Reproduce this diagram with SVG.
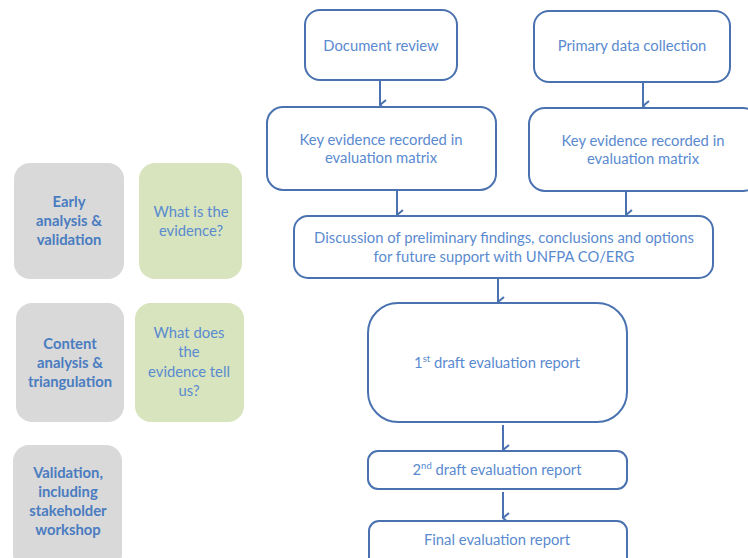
<svg xmlns="http://www.w3.org/2000/svg" width="748" height="558" viewBox="0 0 748 558">
<style>
.box{fill:#fff;stroke:#4a72b0;stroke-width:2}
.gray{fill:#d9d9d9}
.green{fill:#d7e4bd}
.t{font-family:Lato,"Open Sans","Liberation Sans",sans-serif;font-size:14.8px;fill:#5a8ad0;text-anchor:middle}
.b{font-family:Lato,"Open Sans","Liberation Sans",sans-serif;font-size:14.8px;font-weight:bold;fill:#4a7cc0;text-anchor:middle}
.c{stroke:#4a72b0;stroke-width:2;fill:none;marker-end:url(#ah)}
.sup{font-size:9.5px}
</style>
<defs>
<marker id="ah" viewBox="0 0 12 12" refX="6" refY="11" markerWidth="12" markerHeight="12" markerUnits="userSpaceOnUse" orient="auto-start-reverse">
<path d="M1 5 L6 11 L11 5" fill="none" stroke="#4a72b0" stroke-width="2"/>
</marker>
</defs>
<rect width="748" height="558" fill="#fff"/>
<g id="connectors">
<line class="c" x1="380" y1="80" x2="380" y2="105"/>
<line class="c" x1="643" y1="82" x2="643" y2="106"/>
<line class="c" x1="397" y1="190" x2="397" y2="215"/>
<line class="c" x1="626" y1="191" x2="626" y2="215"/>
<line class="c" x1="498" y1="278" x2="498" y2="302"/>
<line class="c" x1="503" y1="425" x2="503" y2="450"/>
<line class="c" x1="503" y1="492" x2="503" y2="518"/>
</g>
<g id="early">
<rect class="gray" x="14" y="163" width="110" height="116" rx="16"/>
<text class="b" x="69" y="207">Early</text>
<text class="b" x="69" y="226">analysis &amp;</text>
<text class="b" x="69" y="245">validation</text>
</g>
<g id="what-is">
<rect class="green" x="139" y="163" width="103" height="116" rx="16"/>
<text class="t" x="191" y="217">What is the</text>
<text class="t" x="191" y="236">evidence?</text>
</g>
<g id="content">
<rect class="gray" x="16" y="303" width="108" height="119" rx="16"/>
<text class="b" x="70" y="349">Content</text>
<text class="b" x="70" y="368">analysis &amp;</text>
<text class="b" x="70" y="387">triangulation</text>
</g>
<g id="what-does">
<rect class="green" x="135" y="303" width="109" height="119" rx="16"/>
<text class="t" x="189" y="338">What does</text>
<text class="t" x="189" y="357">the</text>
<text class="t" x="189" y="377">evidence tell</text>
<text class="t" x="189" y="396">us?</text>
</g>
<g id="validation">
<rect class="gray" x="13" y="445" width="109" height="125" rx="16"/>
<text class="b" x="68" y="478">Validation,</text>
<text class="b" x="68" y="497">including</text>
<text class="b" x="68" y="516">stakeholder</text>
<text class="b" x="68" y="535">workshop</text>
</g>
<g id="doc-review">
<rect class="box" x="305" y="10" width="152" height="70" rx="15"/>
<text class="t" x="381" y="51">Document review</text>
</g>
<g id="primary">
<rect class="box" x="534" y="11" width="196" height="71" rx="15"/>
<text class="t" x="632" y="51">Primary data collection</text>
</g>
<g id="key-left">
<rect class="box" x="267" y="107" width="229" height="83" rx="16"/>
<text class="t" x="381" y="145">Key evidence recorded in</text>
<text class="t" x="381" y="163">evaluation matrix</text>
</g>
<g id="key-right">
<rect class="box" x="529" y="108" width="230" height="83" rx="16"/>
<text class="t" x="643" y="146">Key evidence recorded in</text>
<text class="t" x="643" y="164">evaluation matrix</text>
</g>
<g id="discussion">
<rect class="box" x="294" y="216" width="419" height="62" rx="14"/>
<text class="t" x="504" y="243">Discussion of preliminary findings, conclusions and options</text>
<text class="t" x="504" y="262">for future support with UNFPA CO/ERG</text>
</g>
<g id="draft1">
<rect class="box" x="368" y="303" width="259" height="119" rx="30"/>
<text class="t" x="497" y="368">1<tspan class="sup" dy="-6">st</tspan><tspan dy="6"> draft evaluation report</tspan></text>
</g>
<g id="draft2">
<rect class="box" x="368" y="451" width="259" height="38" rx="10"/>
<text class="t" x="497" y="475">2<tspan class="sup" dy="-6">nd</tspan><tspan dy="6"> draft evaluation report</tspan></text>
</g>
<g id="final">
<rect class="box" x="369" y="521" width="258" height="50" rx="10"/>
<text class="t" x="497" y="545">Final evaluation report</text>
</g>
</svg>
